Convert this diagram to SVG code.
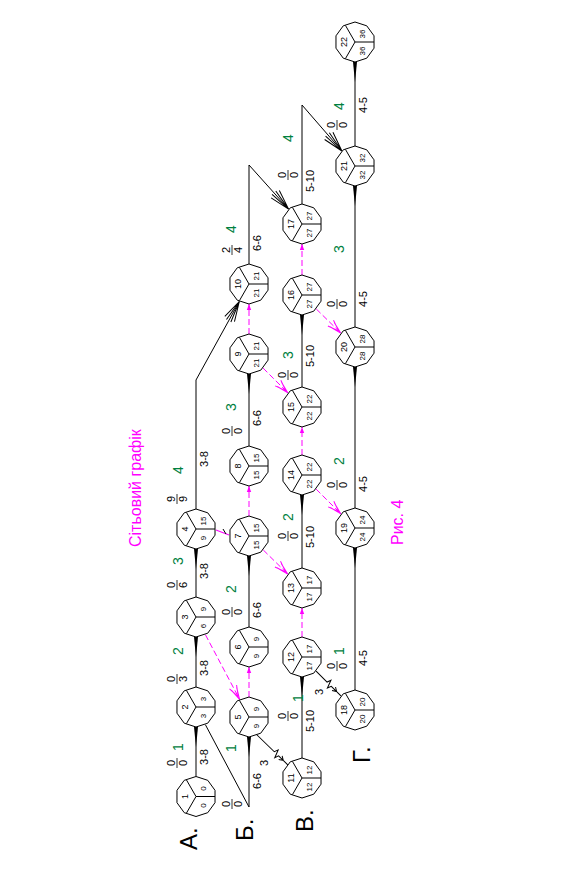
<svg xmlns="http://www.w3.org/2000/svg" width="574" height="871" viewBox="0 0 574 871">
<defs>
<style>
text{font-family:"Liberation Sans",Arial,sans-serif}
.nb{fill:#fff;stroke:#000;stroke-width:1}
.nl{stroke:#000;stroke-width:1;fill:none}
.nn{font-size:9px;text-anchor:middle;fill:#000}
.nt{font-size:8px;text-anchor:middle;fill:#000}
.e{fill:none;stroke:#000;stroke-width:1}
.d{fill:none;stroke:#f0f;stroke-width:1;stroke-dasharray:6 3}
.lb{font-size:11px;text-anchor:middle;fill:#000}
.fr{font-size:11px;text-anchor:middle;fill:#000}
.fb{stroke:#000;stroke-width:0.8}
.g{font-size:14px;fill:#008040;text-anchor:middle}
.rw{font-size:24px;fill:#000}
.mg{font-size:16px;fill:#f0f}
</style>
<marker id="w" markerUnits="userSpaceOnUse" orient="auto" overflow="visible" markerWidth="30" markerHeight="30" refX="0" refY="0"><path d="M0,-2 L0,2 L-20,0 Z" fill="#000" stroke="none"/></marker>
<marker id="fan" markerUnits="userSpaceOnUse" orient="auto" overflow="visible" markerWidth="30" markerHeight="30" refX="0" refY="0"><path d="M0,0 L-22,-2.5 M0,0 L-22,2.5 M0,0 L-20,-5.5 M0,0 L-20,5.5" fill="none" stroke="#000" stroke-width="1"/></marker>
<marker id="mf" markerUnits="userSpaceOnUse" orient="auto" overflow="visible" markerWidth="30" markerHeight="30" refX="0" refY="0"><path d="M0,0 L-12,-3 M0,0 L-12,3 M-3,0 L-14,-4 M-3,0 L-14,4" fill="none" stroke="#f0f" stroke-width="1"/></marker>
<marker id="mt" markerUnits="userSpaceOnUse" orient="auto" overflow="visible" markerWidth="30" markerHeight="30" refX="0" refY="0"><path d="M0,0 L-6,-2.2 L-6,2.2 Z" fill="#f0f" stroke="none"/></marker>
<g id="nd">
<polygon class="nb" points="20,0 16.18,11.76 6.18,19.02 -6.18,19.02 -16.18,11.76 -20,0 -16.18,-11.76 -6.18,-19.02 6.18,-19.02 16.18,-11.76"/>
<path class="nl" d="M0,0 L0,19 M0,0 L-16.5,-9.5 M0,0 L16.5,-9.5"/>
</g>
</defs>
<rect width="574" height="871" fill="#fff"/>
<g transform="translate(0,871) rotate(-90)">

<g id="connectors">
<path class="e" d="M94.5,196 L144,196" marker-end="url(#w)"/>
<path class="e" d="M184,196 L234,196" marker-end="url(#w)"/>
<path class="e" d="M274,196 L322,196" marker-end="url(#w)"/>
<path class="e" d="M362,196 L491,196 L569.5,239.3" marker-end="url(#fan)"/>
<path class="e" d="M146.3,205.4 L64,249 L134,249" marker-end="url(#w)"/>
<path class="d" d="M174,249 L204,249" marker-end="url(#mt)"/>
<path class="d" d="M236.3,205.4 L171.7,239.6" marker-end="url(#mf)"/>
<path class="e" d="M244,249 L315,249" marker-end="url(#w)"/>
<path d="M341,216 L336,229" stroke="#f0f" stroke-width="1.2" fill="none"/>
<path d="M337,226 L342,223" stroke="#000" stroke-width="1" fill="none"/>
<path class="d" d="M355,249 L385,249" marker-end="url(#mt)"/>
<path class="e" d="M425,249 L497,249" marker-end="url(#w)"/>
<path class="d" d="M537,249 L567,249" marker-end="url(#mt)"/>
<path class="e" d="M607,249 L706,249 L661.9,288.6" marker-end="url(#fan)"/>
<g transform="translate(137,256) rotate(134.1)"><path class="e" d="M0,0 L25.5,0 L27,-4 L30,4 L31.5,0 L44.6,0 M34,-2.5 L38,0 L34,2.5"/></g>
<path class="e" d="M113,302 L194,302" marker-end="url(#w)"/>
<path class="d" d="M234,302 L263,302" marker-end="url(#mt)"/>
<path class="d" d="M321,263.3 L297,287.7" marker-end="url(#mf)"/>
<path class="e" d="M303,302 L376,302" marker-end="url(#w)"/>
<path class="d" d="M416,302 L444,302" marker-end="url(#mt)"/>
<path class="d" d="M502.9,263.1 L478.1,287.9" marker-end="url(#mf)"/>
<path class="e" d="M484,302 L556,302" marker-end="url(#w)"/>
<path class="d" d="M596,302 L627,302" marker-end="url(#mt)"/>
<path class="e" d="M667,302 L766,302 L720,341.9" marker-end="url(#fan)"/>
<g transform="translate(199.9,316.1) rotate(135)"><path class="e" d="M0,0 L15.5,0 L17,-4 L20,4 L21.5,0 L35.1,0 M25,-2.5 L29,0 L25,2.5"/></g>
<path class="e" d="M181,355 L323,355" marker-end="url(#w)"/>
<path class="d" d="M381.9,316.1 L357.1,340.9" marker-end="url(#mf)"/>
<path class="e" d="M363,355 L504,355" marker-end="url(#w)"/>
<path class="d" d="M562,316.3 L538,340.7" marker-end="url(#mf)"/>
<path class="e" d="M544,355 L685,355" marker-end="url(#w)"/>
<path class="e" d="M725,355 L809,355" marker-end="url(#w)"/>
</g>

<g id="labels">
<g class="fr"><text x="108" y="175">0</text><text x="108" y="187">0</text><text x="192" y="175">0</text><text x="192" y="187">3</text><text x="286" y="175">0</text><text x="286" y="187">6</text><text x="372" y="175">9</text><text x="372" y="187">9</text>
<text x="67" y="230">0</text><text x="67" y="242">0</text><text x="259" y="230">0</text><text x="259" y="242">0</text><text x="440" y="230">0</text><text x="440" y="242">0</text><text x="621" y="230">2</text><text x="621" y="242">4</text>
<text x="155" y="286">0</text><text x="155" y="298">0</text><text x="335" y="286">0</text><text x="335" y="298">0</text><text x="496" y="286">0</text><text x="496" y="298">0</text><text x="696" y="286">0</text><text x="696" y="298">0</text>
<text x="205" y="335">0</text><text x="205" y="347">0</text><text x="386" y="335">0</text><text x="386" y="347">0</text><text x="567" y="335">0</text><text x="567" y="347">0</text><text x="746" y="335">0</text><text x="746" y="347">0</text></g>
<path class="fb" d="M103,177 H113 M187,177 H197 M281,177 H291 M367,177 H377 M62,232 H72 M254,232 H264 M435,232 H445 M616,232 H626 M150,288 H160 M330,288 H340 M491,288 H501 M691,288 H701 M200,337 H210 M381,337 H391 M562,337 H572 M741,337 H751"/>
<g class="g"><text x="124" y="183">1</text><text x="220" y="183">2</text><text x="310" y="183">3</text><text x="401" y="183">4</text>
<text x="123" y="236">1</text><text x="282" y="236">2</text><text x="464" y="236">3</text><text x="642" y="236">4</text>
<text x="173" y="303">1</text><text x="354" y="293">2</text><text x="516" y="293">3</text><text x="733" y="293">4</text>
<text x="220" y="344">1</text><text x="410" y="344">2</text><text x="622" y="344">3</text><text x="765" y="344">4</text></g>
<g class="lb"><text x="114" y="208">3-8</text><text x="203" y="208">3-8</text><text x="300" y="208">3-8</text><text x="412" y="208">3-8</text>
<text x="90" y="261">6-6</text><text x="261" y="261">6-6</text><text x="453" y="261">6-6</text><text x="628" y="261">6-6</text>
<text x="150" y="314">5-10</text><text x="334" y="314">5-10</text><text x="515" y="314">5-10</text><text x="690" y="314">5-10</text>
<text x="213" y="367">4-5</text><text x="387" y="367">4-5</text><text x="572" y="367">4-5</text><text x="766" y="367">4-5</text>
<text x="108" y="268">3</text><text x="179" y="323">3</text></g>
<text class="rw" x="21" y="197">А.</text>
<text class="rw" x="30" y="253">Б.</text>
<text class="rw" x="39" y="313">В.</text>
<text class="rw" x="108" y="370">Г.</text>
<text class="mg" x="324" y="141">Сітьовий графік</text>
<text class="mg" x="326" y="403">Рис. 4</text>
</g>

<g id="n1" transform="translate(74.5,196)"><use href="#nd"/><text class="nn" y="-8">1</text><text class="nt" x="-9" y="10">0</text><text class="nt" x="8" y="10">0</text></g>
<g id="n2" transform="translate(164,196)"><use href="#nd"/><text class="nn" y="-8">2</text><text class="nt" x="-9" y="10">3</text><text class="nt" x="8" y="10">3</text></g>
<g id="n3" transform="translate(254,196)"><use href="#nd"/><text class="nn" y="-8">3</text><text class="nt" x="-9" y="10">6</text><text class="nt" x="8" y="10">9</text></g>
<g id="n4" transform="translate(342,196)"><use href="#nd"/><text class="nn" y="-8">4</text><text class="nt" x="-9" y="10">9</text><text class="nt" x="8" y="10">15</text></g>
<g id="n5" transform="translate(154,249)"><use href="#nd"/><text class="nn" y="-8">5</text><text class="nt" x="-9" y="10">9</text><text class="nt" x="8" y="10">9</text></g>
<g id="n6" transform="translate(224,249)"><use href="#nd"/><text class="nn" y="-8">6</text><text class="nt" x="-9" y="10">9</text><text class="nt" x="8" y="10">9</text></g>
<g id="n7" transform="translate(335,249)"><use href="#nd"/><text class="nn" y="-8">7</text><text class="nt" x="-9" y="10">15</text><text class="nt" x="8" y="10">15</text></g>
<g id="n8" transform="translate(405,249)"><use href="#nd"/><text class="nn" y="-8">8</text><text class="nt" x="-9" y="10">15</text><text class="nt" x="8" y="10">15</text></g>
<g id="n9" transform="translate(517,249)"><use href="#nd"/><text class="nn" y="-8">9</text><text class="nt" x="-9" y="10">21</text><text class="nt" x="8" y="10">21</text></g>
<g id="n10" transform="translate(587,249)"><use href="#nd"/><text class="nn" y="-8">10</text><text class="nt" x="-9" y="10">21</text><text class="nt" x="8" y="10">21</text></g>
<g id="n11" transform="translate(93,302)"><use href="#nd"/><text class="nn" y="-8">11</text><text class="nt" x="-9" y="10">12</text><text class="nt" x="8" y="10">12</text></g>
<g id="n12" transform="translate(214,302)"><use href="#nd"/><text class="nn" y="-8">12</text><text class="nt" x="-9" y="10">17</text><text class="nt" x="8" y="10">17</text></g>
<g id="n13" transform="translate(283,302)"><use href="#nd"/><text class="nn" y="-8">13</text><text class="nt" x="-9" y="10">17</text><text class="nt" x="8" y="10">17</text></g>
<g id="n14" transform="translate(396,302)"><use href="#nd"/><text class="nn" y="-8">14</text><text class="nt" x="-9" y="10">22</text><text class="nt" x="8" y="10">22</text></g>
<g id="n15" transform="translate(464,302)"><use href="#nd"/><text class="nn" y="-8">15</text><text class="nt" x="-9" y="10">22</text><text class="nt" x="8" y="10">22</text></g>
<g id="n16" transform="translate(576,302)"><use href="#nd"/><text class="nn" y="-8">16</text><text class="nt" x="-9" y="10">27</text><text class="nt" x="8" y="10">27</text></g>
<g id="n17" transform="translate(647,302)"><use href="#nd"/><text class="nn" y="-8">17</text><text class="nt" x="-9" y="10">27</text><text class="nt" x="8" y="10">27</text></g>
<g id="n18" transform="translate(161,355)"><use href="#nd"/><text class="nn" y="-8">18</text><text class="nt" x="-9" y="10">20</text><text class="nt" x="8" y="10">20</text></g>
<g id="n19" transform="translate(343,355)"><use href="#nd"/><text class="nn" y="-8">19</text><text class="nt" x="-9" y="10">24</text><text class="nt" x="8" y="10">24</text></g>
<g id="n20" transform="translate(524,355)"><use href="#nd"/><text class="nn" y="-8">20</text><text class="nt" x="-9" y="10">28</text><text class="nt" x="8" y="10">28</text></g>
<g id="n21" transform="translate(705,355)"><use href="#nd"/><text class="nn" y="-8">21</text><text class="nt" x="-9" y="10">32</text><text class="nt" x="8" y="10">32</text></g>
<g id="n22" transform="translate(829,355)"><use href="#nd"/><text class="nn" y="-8">22</text><text class="nt" x="-9" y="10">36</text><text class="nt" x="8" y="10">36</text></g>
</g>
</svg>
